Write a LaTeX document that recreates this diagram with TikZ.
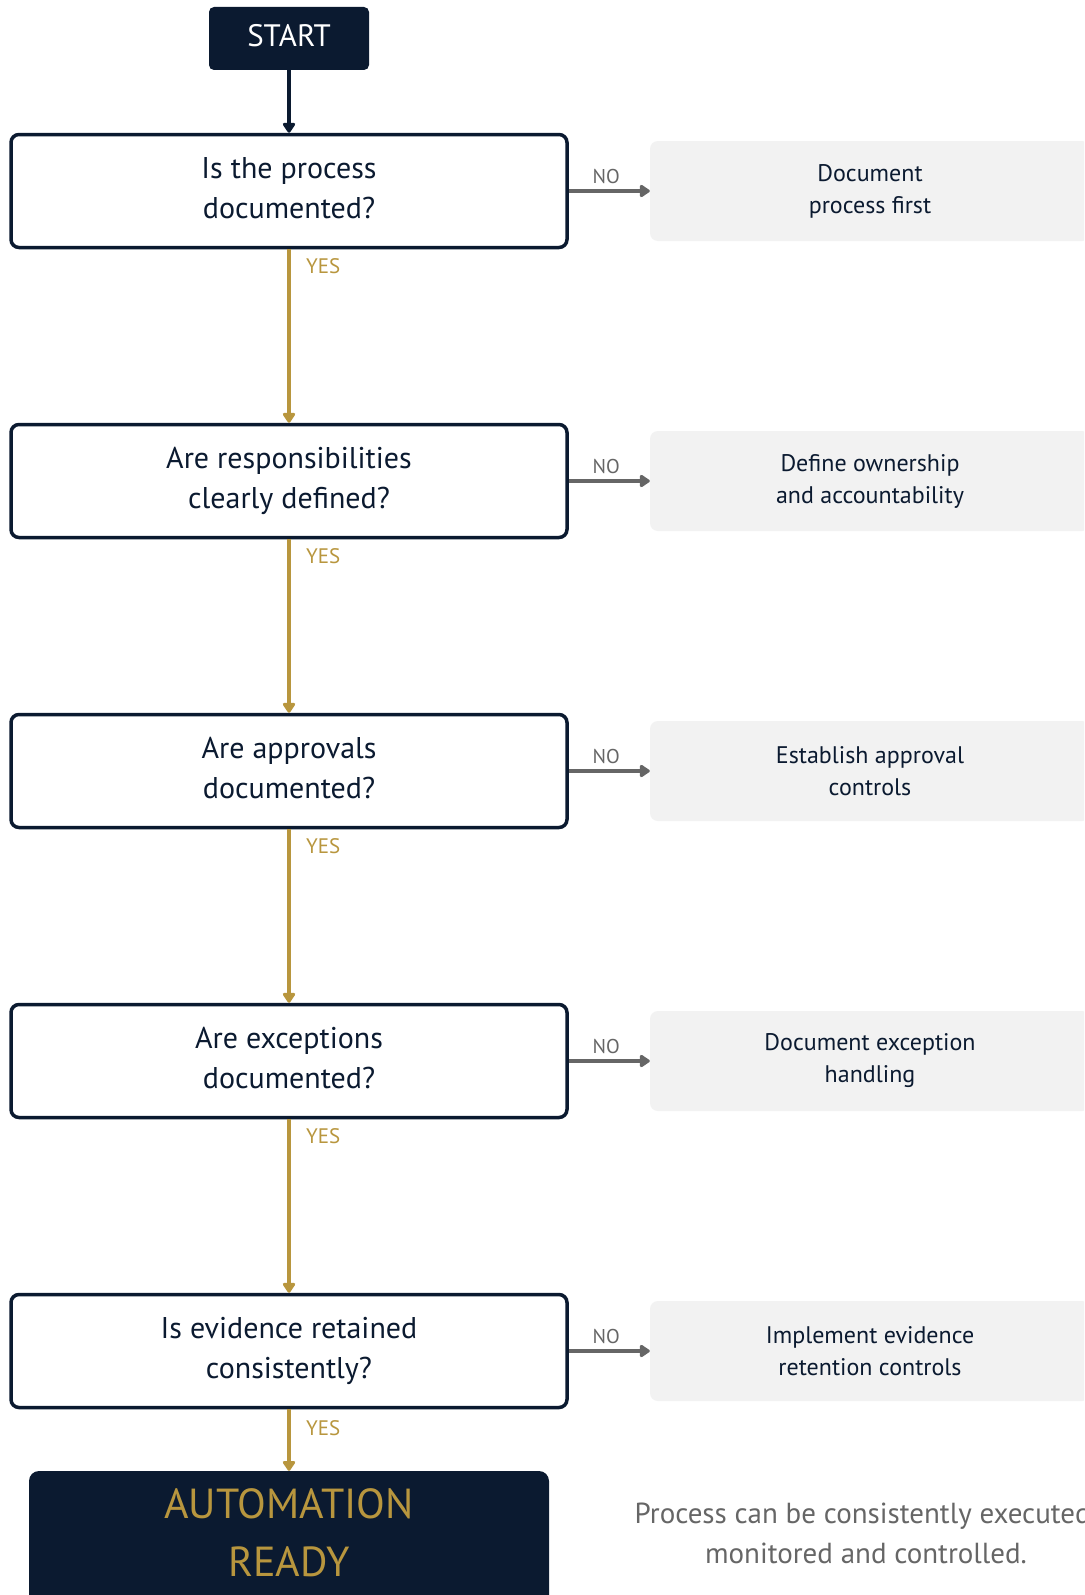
\documentclass[tikz,border=0pt]{standalone}
\usepackage{fontspec}
\setmainfont{PT Sans}
\usetikzlibrary{arrows.meta}
\definecolor{navy}{HTML}{0B1A30}
\definecolor{gold}{HTML}{B8963E}
\definecolor{arrgray}{HTML}{666666}
\definecolor{boxgray}{HTML}{F2F2F2}
\definecolor{txtgray}{HTML}{666666}
\begin{document}
\begin{tikzpicture}[x=1pt,y=-1pt,
  decision/.style={draw=navy, line width=3.5pt, rounded corners=8pt, fill=white,
    minimum width=556pt, minimum height=113pt, align=center, text=navy,
    text depth=6pt, font=\fontsize{30}{40}\selectfont},
  action/.style={fill=boxgray, rounded corners=8pt, minimum width=440pt,
    minimum height=100pt, align=center, text=navy, font=\fontsize{24}{32}\selectfont},
  startbox/.style={fill=navy, rounded corners=5pt, minimum width=160pt,
    minimum height=63pt, text=white, text depth=6pt, font=\fontsize{31}{34}\selectfont},
  endbox/.style={fill=navy, rounded corners=10pt, minimum width=520pt,
    minimum height=140pt, align=center, text=gold, text depth=16pt,
    font=\fontsize{42}{58}\selectfont},
  tip/.style={-{Triangle[length=11pt,width=14pt,round]}},
  yesarrow/.style={draw=gold, line width=3.5pt, tip},
  noarrow/.style={draw=arrgray, line width=4pt, tip},
  yeslbl/.style={text=gold, font=\fontsize{21}{24}\selectfont, anchor=west},
  nolbl/.style={text=arrgray, font=\fontsize{20}{22}\selectfont},
  note/.style={text=txtgray, align=center, font=\fontsize{29}{40}\selectfont}
]
\clip (0,0) rectangle (1084,1595);
\fill[white] (0,0) rectangle (1084,1595);

\node[startbox] (start) at (289,38.5) {START};

\node[decision] (d1) at (289,191) {Is the process\\documented?};
\node[decision] (d2) at (289,481) {Are responsibilities\\clearly defined?};
\node[decision] (d3) at (289,771) {Are approvals\\documented?};
\node[decision] (d4) at (289,1061) {Are exceptions\\documented?};
\node[decision] (d5) at (289,1351) {Is evidence retained\\consistently?};

\node[action] (a1) at (870,191) {Document\\process first};
\node[action] (a2) at (870,481) {Define ownership\\and accountability};
\node[action] (a3) at (870,771) {Establish approval\\controls};
\node[action] (a4) at (870,1061) {Document exception\\handling};
\node[action] (a5) at (870,1351) {Implement evidence\\retention controls};

\node[endbox] (ready) at (289,1541) {AUTOMATION\\READY};

\node[note] (note) at (866,1533) {Process can be consistently executed,\\monitored and controlled.};

\draw[draw=navy, line width=3.5pt, tip] (start.south) -- (d1.north);

\draw[yesarrow] (d1.south) -- node[pos=0.1, yeslbl, xshift=12pt] (y1) {YES} (d2.north);
\draw[yesarrow] (d2.south) -- node[pos=0.1, yeslbl, xshift=12pt] (y2) {YES} (d3.north);
\draw[yesarrow] (d3.south) -- node[pos=0.1, yeslbl, xshift=12pt] (y3) {YES} (d4.north);
\draw[yesarrow] (d4.south) -- node[pos=0.1, yeslbl, xshift=12pt] (y4) {YES} (d5.north);
\draw[yesarrow] (d5.south) -- node[pos=0.3, yeslbl, xshift=12pt] (y5) {YES} (ready.north);

\draw[noarrow] (d1.east) -- node[nolbl, above=2pt, xshift=-3pt] (n1) {NO} (a1.west);
\draw[noarrow] (d2.east) -- node[nolbl, above=2pt, xshift=-3pt] (n2) {NO} (a2.west);
\draw[noarrow] (d3.east) -- node[nolbl, above=2pt, xshift=-3pt] (n3) {NO} (a3.west);
\draw[noarrow] (d4.east) -- node[nolbl, above=2pt, xshift=-3pt] (n4) {NO} (a4.west);
\draw[noarrow] (d5.east) -- node[nolbl, above=2pt, xshift=-3pt] (n5) {NO} (a5.west);
\end{tikzpicture}
\end{document}
